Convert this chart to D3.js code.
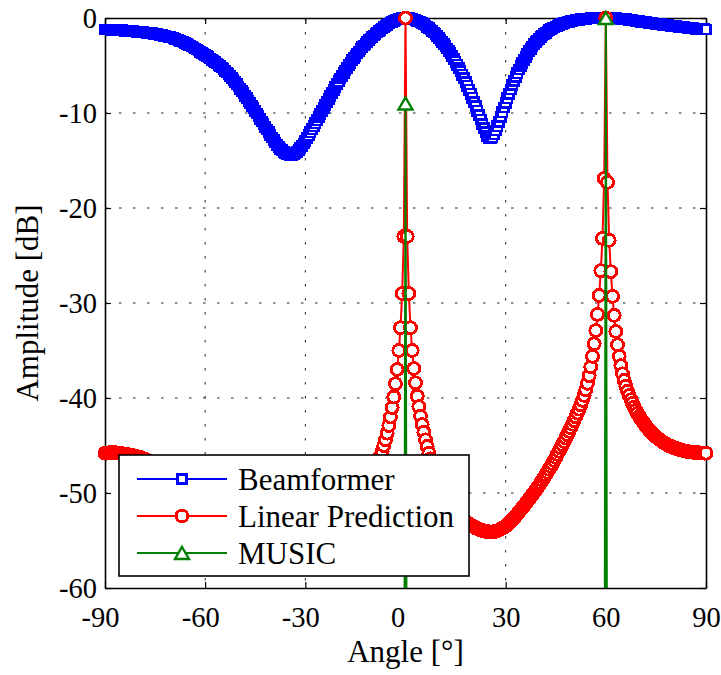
<!DOCTYPE html>
<html>
<head>
<meta charset="utf-8">
<script src="https://cdn.jsdelivr.net/npm/d3@7"></script>
<style>
  body { margin: 0; background: #fff; }
  svg { display: block; font-family: "Liberation Serif", "Times New Roman", serif; }
</style>
</head>
<body>
<svg id="chart" width="721" height="675"></svg>
<script>
// sampling grid of the spectra: every half degree from -90 to 90
const angles = d3.range(-90, 90.25, 0.5);

// Beamformer spectrum [dB], 20 samples per row (10 degrees)
const beamDb = [
  -1.2, -1.2, -1.21, -1.22, -1.23, -1.24, -1.25, -1.26, -1.27, -1.29, -1.3, -1.31, -1.33, -1.34, -1.36, -1.37, -1.39, -1.41, -1.42, -1.44,
  -1.45, -1.47, -1.49, -1.51, -1.53, -1.55, -1.57, -1.59, -1.62, -1.65, -1.68, -1.71, -1.74, -1.78, -1.82, -1.86, -1.9, -1.94, -1.98, -2.02,
  -2.06, -2.12, -2.19, -2.26, -2.33, -2.4, -2.48, -2.56, -2.64, -2.72, -2.8, -2.9, -3.0, -3.1, -3.2, -3.31, -3.42, -3.54, -3.66, -3.78,
  -3.9, -4.02, -4.14, -4.26, -4.39, -4.52, -4.65, -4.78, -4.92, -5.06, -5.2, -5.37, -5.55, -5.73, -5.92, -6.11, -6.3, -6.52, -6.75, -6.98,
  -7.2, -7.44, -7.68, -7.93, -8.18, -8.44, -8.7, -8.96, -9.23, -9.5, -9.78, -10.06, -10.34, -10.62, -10.9, -11.18, -11.46, -11.74, -12.02, -12.3,
  -12.58, -12.85, -13.1, -13.33, -13.55, -13.75, -13.93, -14.08, -14.2, -14.3, -14.37, -14.4, -14.38, -14.32, -14.22, -14.08, -13.9, -13.7, -13.47, -13.22,
  -12.95, -12.65, -12.34, -12.03, -11.72, -11.4, -11.08, -10.76, -10.44, -10.12, -9.8, -9.48, -9.16, -8.84, -8.52, -8.2, -7.88, -7.57, -7.26, -6.96,
  -6.66, -6.37, -6.08, -5.8, -5.52, -5.25, -4.98, -4.72, -4.46, -4.21, -3.97, -3.74, -3.52, -3.3, -3.09, -2.89, -2.7, -2.51, -2.33, -2.16,
  -2.0, -1.84, -1.68, -1.53, -1.38, -1.24, -1.1, -0.96, -0.82, -0.7, -0.58, -0.48, -0.38, -0.3, -0.22, -0.15, -0.1, -0.06, -0.03, -0.01,
  0, -0.01, -0.03, -0.06, -0.1, -0.15, -0.21, -0.28, -0.36, -0.45, -0.55, -0.66, -0.78, -0.91, -1.05, -1.2, -1.36, -1.53, -1.71, -1.9,
  -2.1, -2.3, -2.5, -2.72, -2.95, -3.2, -3.45, -3.72, -4.0, -4.3, -4.6, -4.92, -5.25, -5.6, -5.96, -6.34, -6.73, -7.13, -7.54, -7.96,
  -8.4, -8.84, -9.3, -9.76, -10.22, -10.68, -11.14, -11.6, -12.03, -12.4, -12.62, -12.68, -12.55, -12.25, -11.85, -11.4, -10.92, -10.42, -9.92, -9.42,
  -8.93, -8.45, -7.98, -7.52, -7.07, -6.64, -6.22, -5.82, -5.43, -5.06, -4.71, -4.38, -4.07, -3.78, -3.5, -3.24, -3.0, -2.77, -2.56, -2.36,
  -2.17, -2.0, -1.84, -1.69, -1.55, -1.42, -1.3, -1.19, -1.09, -0.99, -0.9, -0.82, -0.74, -0.67, -0.6, -0.54, -0.48, -0.43, -0.38, -0.34,
  -0.3, -0.26, -0.23, -0.2, -0.17, -0.14, -0.12, -0.1, -0.08, -0.06, -0.05, -0.04, -0.03, -0.02, -0.01, -0.01, 0, 0, 0, 0,
  0, 0, 0, -0.01, -0.02, -0.03, -0.04, -0.05, -0.06, -0.08, -0.1, -0.12, -0.14, -0.16, -0.18, -0.2, -0.23, -0.26, -0.29, -0.32,
  -0.35, -0.38, -0.41, -0.43, -0.46, -0.48, -0.51, -0.53, -0.56, -0.58, -0.61, -0.63, -0.65, -0.67, -0.7, -0.72, -0.74, -0.76, -0.78, -0.8,
  -0.82, -0.84, -0.87, -0.89, -0.92, -0.94, -0.96, -0.98, -1.0, -1.02, -1.04, -1.06, -1.08, -1.1, -1.12, -1.14, -1.15, -1.17, -1.18, -1.19,
  -1.2
];

// Linear Prediction spectrum [dB], same grid
const lpDb = [
  -45.8, -45.8, -45.78, -45.76, -45.75, -45.75, -45.76, -45.78, -45.8, -45.82, -45.85, -45.88, -45.91, -45.94, -45.97, -46.0, -46.04, -46.08, -46.12, -46.16,
  -46.2, -46.26, -46.32, -46.38, -46.45, -46.55, -46.65, -46.76, -46.88, -47.0, -47.12, -47.24, -47.36, -47.48, -47.6, -47.73, -47.86, -47.99, -48.12, -48.25,
  -48.38, -48.51, -48.64, -48.77, -48.9, -49.03, -49.16, -49.29, -49.42, -49.55, -49.68, -49.81, -49.94, -50.07, -50.2, -50.32, -50.44, -50.56, -50.68, -50.8,
  -50.92, -51.03, -51.14, -51.25, -51.36, -51.47, -51.58, -51.68, -51.78, -51.88, -51.98, -52.07, -52.16, -52.25, -52.34, -52.43, -52.52, -52.6, -52.68, -52.76,
  -52.84, -52.91, -52.98, -53.05, -53.12, -53.18, -53.24, -53.3, -53.36, -53.42, -53.48, -53.53, -53.58, -53.63, -53.68, -53.72, -53.76, -53.8, -53.83, -53.86,
  -53.89, -53.91, -53.93, -53.95, -53.96, -53.97, -53.98, -53.99, -54.0, -54.0, -54.0, -54.0, -53.99, -53.98, -53.97, -53.96, -53.94, -53.92, -53.9, -53.87,
  -53.84, -53.8, -53.76, -53.72, -53.67, -53.62, -53.57, -53.51, -53.45, -53.38, -53.31, -53.23, -53.15, -53.06, -52.97, -52.87, -52.77, -52.66, -52.55, -52.43,
  -52.3, -52.17, -52.03, -51.88, -51.73, -51.57, -51.41, -51.24, -51.07, -50.89, -50.7, -50.5, -50.29, -50.07, -49.84, -49.6, -49.35, -49.08, -48.8, -48.5,
  -48.15, -47.8, -47.4, -47.0, -46.6, -46.1, -45.6, -45.0, -44.4, -43.7, -42.9, -42.0, -41.0, -39.9, -38.5, -37.0, -35.0, -32.6, -29.0, -23.0,
  0, -23.0, -29.0, -32.6, -35.0, -36.9, -38.4, -39.8, -40.9, -41.9, -42.8, -43.6, -44.4, -45.1, -45.8, -46.4, -47.0, -47.6, -48.1, -48.6,
  -49.05, -49.45, -49.83, -50.18, -50.5, -50.8, -51.08, -51.34, -51.58, -51.8, -52.0, -52.19, -52.37, -52.54, -52.7, -52.85, -52.99, -53.12, -53.24, -53.36,
  -53.47, -53.57, -53.66, -53.74, -53.82, -53.89, -53.95, -54.0, -54.04, -54.07, -54.09, -54.1, -54.09, -54.07, -54.03, -53.97, -53.9, -53.81, -53.72, -53.6,
  -53.47, -53.33, -53.17, -53.0, -52.82, -52.63, -52.43, -52.22, -52.0, -51.78, -51.56, -51.34, -51.11, -50.88, -50.65, -50.42, -50.18, -49.94, -49.7, -49.45,
  -49.2, -48.93, -48.66, -48.38, -48.1, -47.81, -47.51, -47.21, -46.9, -46.58, -46.26, -45.93, -45.6, -45.26, -44.92, -44.57, -44.22, -43.86, -43.5, -43.13,
  -42.76, -42.38, -41.99, -41.59, -41.17, -40.73, -40.25, -39.72, -39.13, -38.45, -37.65, -36.72, -35.62, -34.3, -32.9, -31.2, -29.2, -26.6, -23.2, -16.9,
  0, -17.3, -23.4, -26.7, -29.3, -31.3, -33.0, -34.4, -35.6, -36.6, -37.45, -38.15, -38.75, -39.28, -39.75, -40.18, -40.58, -40.95, -41.3, -41.62,
  -41.92, -42.2, -42.46, -42.71, -42.94, -43.16, -43.37, -43.56, -43.74, -43.91, -44.07, -44.22, -44.36, -44.49, -44.61, -44.72, -44.83, -44.93, -45.02, -45.1,
  -45.18, -45.25, -45.31, -45.37, -45.42, -45.47, -45.52, -45.56, -45.6, -45.63, -45.66, -45.69, -45.71, -45.73, -45.75, -45.76, -45.77, -45.78, -45.79, -45.8,
  -45.8
];

// MUSIC pseudo spectrum: only the two peaks reach above the -60 dB floor,
// the neighbouring samples lie far below the visible range
const musicAngles = [-90, -0.5, 0, 0.5, 59.5, 60, 60.5, 90];
const musicDb = [-100, -100, -9, -100, -100, 0, -100, -100];

const seriesNames = ["Beamformer", "Linear Prediction", "MUSIC"];
const xTicks = [-90, -60, -30, 0, 30, 60, 90];
const yTicks = [-60, -50, -40, -30, -20, -10, 0];

const width = 721, height = 675;
const plot = {left: 105, right: 706, top: 18, bottom: 588};

const x = d3.scaleLinear().domain([-90, 90]).range([plot.left, plot.right]);
const y = d3.scaleLinear().domain([-60, 0]).range([plot.bottom, plot.top]);

const svg = d3.select("#chart");

svg.append("defs").append("clipPath").attr("id", "plotClip")
    .append("rect")
    .attr("x", plot.left).attr("y", plot.top)
    .attr("width", plot.right - plot.left).attr("height", plot.bottom - plot.top);

// dotted grid
const grid = svg.append("g");
grid.selectAll(".gx").data(xTicks.slice(1, -1)).join("line")
    .attr("x1", d => x(d)).attr("x2", d => x(d))
    .attr("y1", plot.top).attr("y2", plot.bottom);
grid.selectAll(".gy").data(yTicks.slice(1, -1)).join("line")
    .attr("x1", plot.left).attr("x2", plot.right)
    .attr("y1", d => y(d)).attr("y2", d => y(d));
grid.selectAll("line")
    .attr("stroke", "#222").attr("stroke-width", 1)
    .attr("stroke-dasharray", "2.5,11.5");

// axes, ticks pointing inwards on all four sides
const fmt = d => String(d);
const styleAxis = g => {
    g.select(".domain").attr("stroke", "#000").attr("stroke-width", 1.6);
    g.selectAll(".tick line").attr("stroke", "#000").attr("stroke-width", 1.2);
    g.selectAll("text").attr("fill", "#000").style("font-size", "28.5px")
        .style("font-family", '"Liberation Serif", "Times New Roman", serif');
};

const xAxisG = svg.append("g").attr("transform", `translate(0,${plot.bottom})`)
    .call(d3.axisBottom(x).tickValues(xTicks).tickFormat(fmt).tickSizeInner(-6).tickSizeOuter(0).tickPadding(19))
    .call(styleAxis);
// the exported figure has its x labels sitting a little left of the ticks
xAxisG.selectAll(".tick text").attr("dx", d => d < 0 ? -5 : (d === 0 ? -8 : 0));
svg.append("g").attr("transform", `translate(0,${plot.top})`)
    .call(d3.axisTop(x).tickValues(xTicks).tickFormat("").tickSizeInner(-6).tickSizeOuter(0))
    .call(styleAxis);
svg.append("g").attr("transform", `translate(${plot.left},0)`)
    .call(d3.axisLeft(y).tickValues(yTicks).tickFormat(fmt).tickSizeInner(-6).tickSizeOuter(0).tickPadding(8))
    .call(styleAxis);
svg.append("g").attr("transform", `translate(${plot.right},0)`)
    .call(d3.axisRight(y).tickValues(yTicks).tickFormat("").tickSizeInner(-6).tickSizeOuter(0))
    .call(styleAxis);

// axis labels
svg.append("text")
    .attr("x", (plot.left + plot.right) / 2).attr("y", 662)
    .attr("text-anchor", "middle").style("font-size", "31px")
    .text("Angle [°]");
svg.append("text")
    .attr("transform", `translate(38,${(plot.top + plot.bottom) / 2}) rotate(-90)`)
    .attr("text-anchor", "middle").style("font-size", "31px")
    .text("Amplitude [dB]");

// markers, white filled like the matlab figure
function marker(g, type, cx, cy, color) {
    if (type === "square") {
        const s = 4.6;
        g.append("rect").attr("x", cx - s).attr("y", cy - s).attr("width", 2 * s).attr("height", 2 * s)
            .attr("fill", "#fff").attr("stroke", color).attr("stroke-width", 2.6)
            .attr("shape-rendering", "crispEdges");
    } else if (type === "circle") {
        g.append("circle").attr("cx", cx).attr("cy", cy).attr("r", 6)
            .attr("fill", "#fff").attr("stroke", color).attr("stroke-width", 2.9)
            .attr("shape-rendering", "crispEdges");
    } else {
        const w = 7, h = 6;
        g.append("path").attr("d", `M${cx},${cy - h}L${cx + w},${cy + h}L${cx - w},${cy + h}Z`)
            .attr("fill", "#fff").attr("stroke", color).attr("stroke-width", 2.4)
            .attr("stroke-linejoin", "miter");
    }
}

const series = [
    {name: seriesNames[0], color: "#0000ff", type: "square", xs: angles, ys: beamDb},
    {name: seriesNames[1], color: "#ff0000", type: "circle", xs: angles, ys: lpDb},
    {name: seriesNames[2], color: "#008000", type: "triangle", xs: musicAngles, ys: musicDb}
];

const line = d3.line().x(d => x(d[0])).y(d => y(d[1]));

series.forEach(s => {
    const pts = d3.zip(s.xs, s.ys);
    const g = svg.append("g");
    g.append("path").datum(pts)
        .attr("clip-path", "url(#plotClip)")
        .attr("fill", "none").attr("stroke", s.color).attr("stroke-width", 2)
        .attr("stroke-linejoin", "round")
        .attr("d", line);
    pts.filter(p => p[1] >= -60 && p[1] <= 0)
        .forEach(p => marker(g, s.type, x(p[0]), y(p[1]), s.color));
});

// legend
const legend = svg.append("g");
legend.append("rect")
    .attr("x", 119).attr("y", 455).attr("width", 350).attr("height", 121)
    .attr("fill", "#fff").attr("stroke", "#000").attr("stroke-width", 1.6);
series.forEach((s, i) => {
    const ly = 479 + i * 37;
    legend.append("line").attr("x1", 137).attr("x2", 227).attr("y1", ly).attr("y2", ly)
        .attr("stroke", s.color).attr("stroke-width", 2);
    marker(legend, s.type, 182, ly, s.color);
    legend.append("text").attr("x", 238).attr("y", ly + 11)
        .style("font-size", "31px").text(s.name);
});
</script>
</body>
</html>
